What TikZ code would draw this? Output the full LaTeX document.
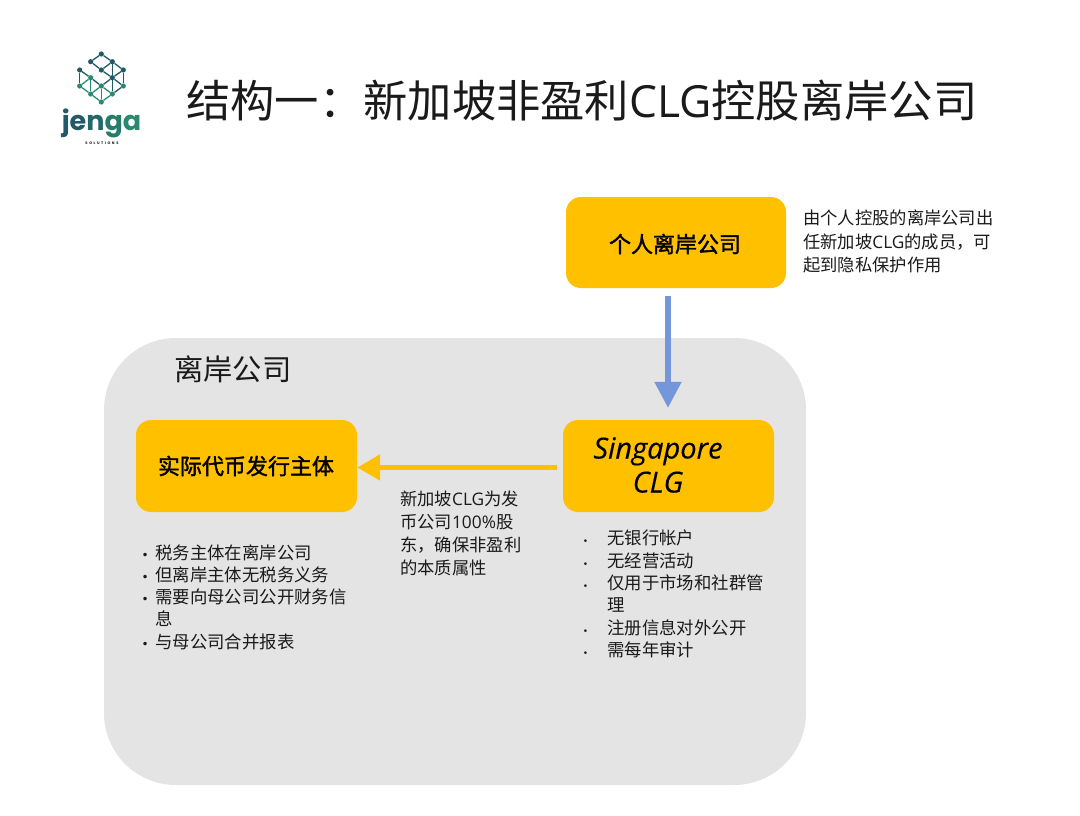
\documentclass[tikz,border=0pt]{standalone}
\usepackage{fontspec}
\usetikzlibrary{arrows.meta}
\setmainfont{Noto Sans CJK SC}
\newfontfamily\latf{Open Sans}
\newfontfamily\popf{Poppins}
\newfontfamily\bulf{DejaVu Sans}
\newfontfamily\boxf[FakeBold=1.6]{Noto Sans CJK SC}
\newfontfamily\singf[FakeBold=0.25]{Open Sans}
\newcommand{\lat}[1]{{\latf #1}}
\newcommand{\fs}[1]{\fontsize{#1}{#1}\selectfont}
\newcommand{\bulL}{\makebox[0pt][r]{{\bulf\fontsize{12}{12}\selectfont •}\hspace{6.5pt}}}
\newcommand{\bulR}{\makebox[0pt][r]{{\bulf\fontsize{9}{9}\selectfont •}\hspace{19pt}}}
\definecolor{boxy}{HTML}{FFC000}
\definecolor{panel}{HTML}{E4E4E4}
\definecolor{blueA}{HTML}{7397DA}
\definecolor{ink}{HTML}{1A1A1A}
\definecolor{lgA}{HTML}{1F5A66}
\definecolor{lgB}{HTML}{2A8A70}
\tikzset{
  x=1pt,y=-1pt,
  card/.style={fill=boxy,rounded corners=15pt,inner sep=0pt},
  boxtext/.style={font=\boxf\fs{22},text=black,inner sep=0pt},
  para/.style={font=\fontsize{17.3}{23.2}\selectfont,text=ink,inner sep=0pt,align=left,anchor=west},
  item/.style={font=\fs{17.4},text=ink,inner sep=0pt,anchor=west},
  dot/.style={circle,fill=#1,inner sep=0pt,minimum size=5.2pt},
  lk/.style={draw=lgA,line width=1.3pt},
  lk2/.style={draw=lgB,line width=1.3pt},
}
\begin{document}
\begin{tikzpicture}
\useasboundingbox (0,0) rectangle (1080,816);
\fill[white] (0,0) rectangle (1080,816);

% panel
\node[fill=panel,rounded corners=72pt,minimum width=702pt,minimum height=447pt,inner sep=0pt] (panel) at (455,561.5) {};
\node[font=\fs{29.3},text=ink,inner sep=0pt,anchor=west] (paneltitle) at (174,369.5) {离岸公司};

% title
\node[font=\fs{44.3},text=ink,inner sep=0pt,anchor=west] (title) at (186,101) {结构一：新加坡非盈利\lat{CLG}控股离岸公司};

% logo
\foreach \n/\px/\py/\c in {a/101.3/54/lgA,b/90.7/61.7/lgA,c/112.3/61.7/lgA,d/101.3/70/lgA,e/123.3/70/lgA,f/79.7/70/lgA,
  g/112.3/77.7/lgA,h/90.7/77.7/lgB,i/101.3/86/lgB,j/123.3/86/lgB,k/90.7/94/lgB,l/112.3/94/lgB,m/101.3/102/lgB,o/79.7/86/lgB}
  \node[dot=\c] (\n) at (\px,\py) {};
\foreach \s/\t in {a/b,a/c,b/d,c/d,c/e,d/g,e/g,e/j,c/g,f/h,f/o,h/i,g/i,g/j,g/l,j/l}
  \path[lk] (\s) -- (\t);
\foreach \s/\t in {h/k,o/k,o/h,i/k,i/l,k/m,l/m,i/m}
  \path[lk2] (\s) -- (\t);
\node[font=\popf\fontsize{27}{27}\selectfont\bfseries,inner sep=0pt,anchor=base] (jenga) at (101.5,130.5)
  {\textcolor{lgA}{j}\textcolor{lgA}{e}\textcolor{lgA!70!lgB}{n}\textcolor{lgA!30!lgB}{g}\textcolor{lgB}{a}};
\node[font=\popf\fontsize{3.6}{3.6}\selectfont\bfseries,text=ink,inner sep=0pt] (sol) at (102,143) {S\hspace{1.6pt}O\hspace{1.6pt}L\hspace{1.6pt}U\hspace{1.6pt}T\hspace{1.6pt}I\hspace{1.6pt}O\hspace{1.6pt}N\hspace{1.6pt}S};

% cards
\node[card,minimum width=220pt,minimum height=91pt] (personal) at (676,242.5) {};
\node[boxtext] (personalt) at (675,244) {个人离岸公司};
\node[card,minimum width=211pt,minimum height=92pt] (clg) at (668.5,466) {};
\node[font=\singf\itshape\fs{29},text=black,inner sep=0pt,align=center] (clgt) at (658,465) {Singapore\\[5pt]CLG};
\node[card,minimum width=221pt,minimum height=92pt] (issuer) at (246.5,466) {};
\node[boxtext] (issuert) at (246,466) {实际代币发行主体};

% connectors
\draw[blueA,line width=5.3pt,-{Triangle[width=26pt,length=26pt]},shorten <=8pt,shorten >=12pt]
  ([xshift=-8pt]personal.south) -- ([xshift=-0.5pt]clg.north);
\draw[boxy,line width=5.3pt,-{Triangle[width=25pt,length=23pt]},shorten <=6pt]
  ([yshift=-1.5pt]clg.west) -- ([yshift=-1.5pt]issuer.east);

% notes
\node[para] (note) at (803,241.5) {由个人控股的离岸公司出\\任新加坡\lat{CLG}的成员，可\\起到隐私保护作用};
\node[para] (share) at (400,533.5) {新加坡\lat{CLG}为发\\币公司\lat{100\%}股\\东，确保非盈利\\的本质属性};

% left list
\node[item] (l1) at (155,553) {\bulL 税务主体在离岸公司};
\node[item] (l2) at (155,575) {\bulL 但离岸主体无税务义务};
\node[item] (l3) at (155,597) {\bulL 需要向母公司公开财务信};
\node[item] (l3b) at (155,619) {息};
\node[item] (l4) at (155,642) {\bulL 与母公司合并报表};

% right list
\node[item] (r1) at (607,538) {\bulR 无银行帐户};
\node[item] (r2) at (607,561) {\bulR 无经营活动};
\node[item] (r3) at (607,583) {\bulR 仅用于市场和社群管};
\node[item] (r3b) at (607,605) {理};
\node[item] (r4) at (607,628) {\bulR 注册信息对外公开};
\node[item] (r5) at (607,650) {\bulR 需每年审计};
\end{tikzpicture}
\end{document}
